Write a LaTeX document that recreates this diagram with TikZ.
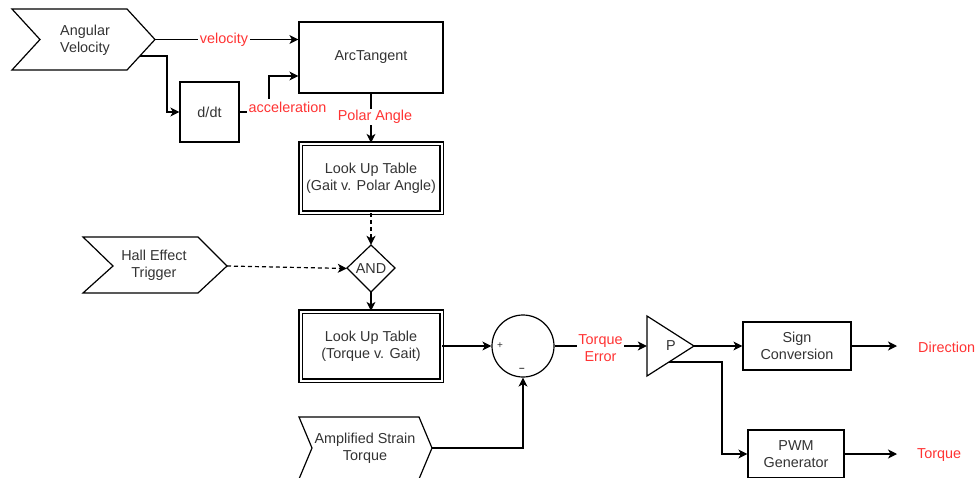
\documentclass[tikz,border=0pt]{standalone}
\usepackage{fontspec}
\setmainfont{Liberation Sans}
\usetikzlibrary{arrows.meta,calc}
\definecolor{txt}{RGB}{51,51,51}
\definecolor{lblred}{RGB}{255,51,51}
\begin{document}
\begin{tikzpicture}[x=1pt,y=-1pt,
  every node/.style={font=\fontsize{14.4}{17}\selectfont, text=txt},
  box/.style={draw, line width=1.2pt, inner sep=0pt, align=center},
  dbox/.style={draw, double, double distance=2pt, line width=1.2pt, inner sep=0pt, align=center, minimum width=141pt, minimum height=69pt},
  ghost/.style={inner sep=0pt, align=center},
  lbl/.style={text=lblred, fill=white, inner sep=1.5pt, align=center},
  outlbl/.style={text=lblred, inner sep=0pt, anchor=west},
  con/.style={line width=1.2pt, -{Stealth[length=9pt,width=9pt,inset=2.5pt]}},
  dcon/.style={con, dash pattern=on 4pt off 3pt},
  shp/.style={draw, line width=1.2pt, line join=miter},
]
\useasboundingbox (0,0) rectangle (977,477);

% Angular Velocity (input shape)
\draw[shp] (12,9) -- (127,9) -- (155,39.5) -- (127,70) -- (12,70) -- (40,39.5) -- cycle;
\node[ghost] (av) at (85,40) {Angular\\Velocity};
\coordinate (avtip) at (155,39.5);
\coordinate (avlow) at (140,56);

% ArcTangent
\node[box, minimum width=144pt, minimum height=71pt] (arc) at (371,57.5) {ArcTangent};
% d/dt
\node[box, minimum width=59pt, minimum height=60pt] (ddt) at (209.5,112) {d/dt};

% Look up tables
\node[dbox] (lut1) at (371,178) {Look Up Table\\(Gait v. Polar Angle)};
\node[dbox] (lut2) at (371,346) {Look Up Table\\(Torque v. Gait)};

% AND
\draw[shp] (347,268) -- (371,245) -- (395,268) -- (371,292) -- cycle;
\node[ghost, minimum width=48pt, minimum height=47pt] (and) at (371,268.5) {AND};

% Hall Effect Trigger
\draw[shp] (83,237) -- (198,237) -- (227,266) -- (198,293) -- (83,293) -- (113,266) -- cycle;
\node[ghost] (hall) at (154,265) {Hall Effect\\Trigger};
\coordinate (halltip) at (227,266);

% Sum
\node[draw, circle, line width=1.2pt, minimum size=62pt, inner sep=0pt] (sum) at (523,346) {};
\node[ghost, font=\fontsize{10}{12}\selectfont] (plus) at (500,346) {+};
\node[ghost, font=\fontsize{10}{12}\selectfont] (minus) at (522,370) {\textbf{--}};

% Amplified Strain Torque
\draw[shp] (299,417) -- (419,417) -- (432,448) -- (419,479) -- (299,479) -- (312,448) -- cycle;
\node[ghost] (amp) at (365,448) {Amplified Strain\\Torque};
\coordinate (amptip) at (432,448);

% P gain
\draw[shp] (647,316) -- (694,346) -- (647,376) -- cycle;
\node[ghost, minimum width=47pt, minimum height=60pt] (P) at (670.5,346) {};
\node[ghost] (Ptxt) at (671,346) {P};
\coordinate (Ptip) at (694,346);
\coordinate (Plow) at (669,362);

% Sign conversion & PWM
\node[box, minimum width=108pt, minimum height=48pt] (sign) at (797,346) {Sign\\Conversion};
\node[box, minimum width=96pt, minimum height=48pt] (pwm) at (796,454) {PWM\\Generator};
\coordinate (dirend) at (897,346);
\coordinate (trqend) at (897,454);
\node[outlbl] (dirlbl) at (918,347) {Direction};
\node[outlbl] (trqlbl) at (917,455) {Torque};

% connectors
\draw[con] (avtip) -- (arc.west |- avtip);
\node[lbl] (vel) at (224,39.5) {velocity};
\draw[con] (avlow) -- (167,56) |- (ddt.west);
\draw[con] (ddt.east) -- (269,112) |- (arc.west |- 0,76);
\node[lbl, minimum height=17pt] (acc) at (287.5,107.5) {acceleration};
\draw[con] (arc.south) -- (lut1.north);
\node[lbl] (pol) at (375,117) {Polar Angle};
\draw[dcon] (lut1.south) -- (and.north);
\draw[dcon] (halltip) -- (and.west);
\draw[con] (and.south) -- (lut2.north);
\draw[con] (lut2.east) -- (sum.west);
\draw[con] (amptip) -| (sum.south);
\draw[con] (sum.east) -- (P.west);
\node[lbl] (terr) at (600.5,348) {Torque\\Error};
\draw[con] (Ptip) -- (sign.west);
\draw[con] (Plow) -- (722,362) |- (pwm.west);
\draw[con] (sign.east) -- (dirend);
\draw[con] (pwm.east) -- (trqend);
\end{tikzpicture}
\end{document}
